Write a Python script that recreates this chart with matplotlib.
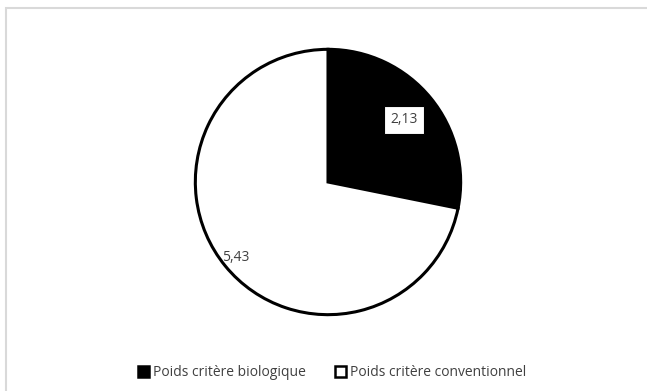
import numpy as np
import matplotlib
matplotlib.use("Agg")
import matplotlib.pyplot as plt
from matplotlib.patches import Rectangle

# values
labels = ["Poids critère biologique", "Poids critère conventionnel"]
values = [2.13, 5.43]
value_text = ["2,13", "5,43"]
colors = ["black", "white"]

fig = plt.figure(figsize=(6.47, 3.91), dpi=100)

# light grey frame like the exported chart area
fig.patches.append(Rectangle((6 / 647, -0.05), 1.1, (391 - 8) / 391 + 0.05,
                             transform=fig.transFigure, fill=False,
                             edgecolor="#d9d9d9", linewidth=1.5))

ax = fig.add_axes([(328 - 134) / 647, (391 - 182 - 134) / 391, 268 / 647, 268 / 391])
wedges, _ = ax.pie(values, colors=colors, startangle=90, counterclock=False,
                   wedgeprops=dict(edgecolor="black", linewidth=2.2))
ax.set_xlim(-1.01, 1.01)
ax.set_ylim(-1.01, 1.01)
ax.set_aspect("equal")
ax.axis("off")

# data labels
dists = [0.74, 0.90]
for w, txt, d in zip(wedges, value_text, dists):
    ang = np.deg2rad((w.theta1 + w.theta2) / 2)
    x, y = d * np.cos(ang), d * np.sin(ang)
    if txt == "2,13":
        ax.text(x, y, txt, ha="center", va="center", fontsize=10, color="#404040",
                family="Open Sans",
                bbox=dict(boxstyle="square,pad=0.45", fc="white", ec="black", lw=0.8))
    else:
        ax.text(x, y, txt, ha="center", va="center", fontsize=10, color="#404040",
                family="Open Sans")

handles = [Rectangle((0, 0), 1, 1, fc=c, ec="black", lw=1.8) for c in colors]
fig.legend(handles, labels, loc="center", bbox_to_anchor=(332 / 647, 18 / 391),
           ncol=2, frameon=False, handlelength=0.8, handleheight=0.8,
           handletextpad=0.3, columnspacing=2.1,
           prop=dict(family="Open Sans", size=10), labelcolor="#404040")

fig.savefig("out.png", dpi=100)
